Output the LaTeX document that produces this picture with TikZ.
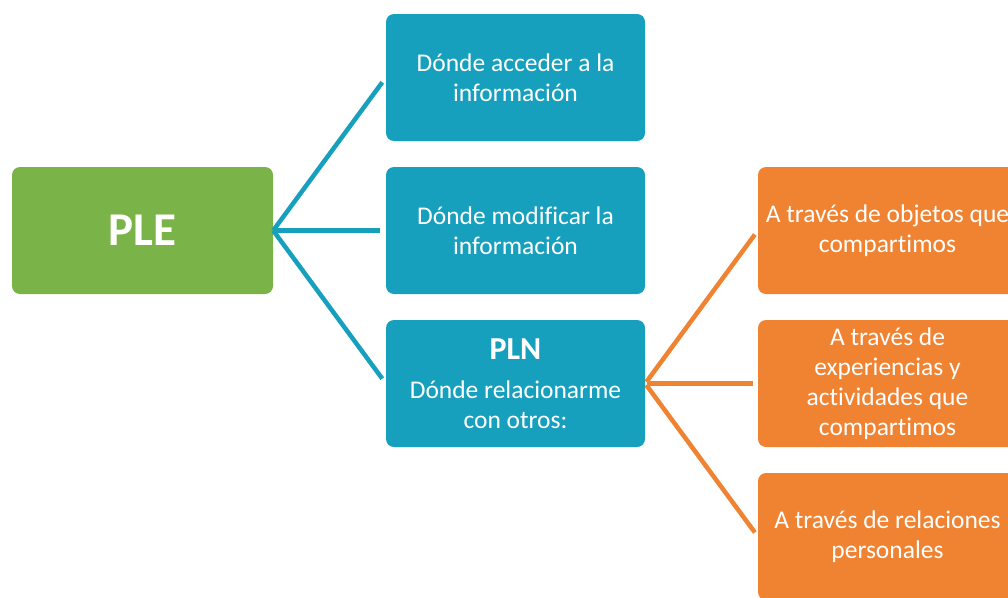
\documentclass[tikz,border=0pt]{standalone}
\usepackage{fontspec}
\setmainfont{Carlito}[Ligatures=NoCommon]
\usepackage{tikz}
\definecolor{pleGreen}{RGB}{122,179,71}
\definecolor{plnBlue}{RGB}{22,160,189}
\definecolor{plnOrange}{RGB}{240,131,50}
\tikzset{
  box/.style={rounded corners=8pt, minimum width=259pt, minimum height=127pt,
    inner sep=0pt, text=white, align=center, font=\fontsize{25.5}{30}\selectfont},
  link/.style={line width=4.5pt}
}

\begin{document}
\begin{tikzpicture}[x=1pt,y=-1pt]
        \clip (0,0) rectangle (1008,597);
        \fill[white] (0,0) rectangle (1008,597);

        \node[box, fill=pleGreen, minimum width=261pt, font=\bfseries\fontsize{47}{50}\selectfont] (ple) at (142.5,230.5) {PLE};

        \node[box, fill=plnBlue] (acceso) at (515.5,77.5) {Dónde acceder a la\\información};
        \node[box, fill=plnBlue] (modificar) at (515.5,230.5) {Dónde modificar la\\información};
        \node[box, fill=plnBlue] (pln) at (515.5,383.5) {{\bfseries\fontsize{32}{34}\selectfont PLN}\\[9pt]Dónde relacionarme\\con otros:};

        \node[box, fill=plnOrange] (objetos) at (887.5,230.5) {A través de objetos que\\compartimos};
        \node[box, fill=plnOrange] (experiencias) at (887.5,383.5) {A través de\\experiencias y\\actividades que\\compartimos};
        \node[box, fill=plnOrange] (relaciones) at (887.5,536.5) {A través de relaciones\\personales};

        \draw[link, plnBlue, shorten >=6pt] (ple.east) -- (acceso.west);
        \draw[link, plnBlue, shorten >=6pt] (ple.east) -- (modificar.west);
        \draw[link, plnBlue, shorten >=6pt] (ple.east) -- (pln.west);

        \draw[link, plnOrange, shorten <=2pt, shorten >=5pt] (pln.east) -- (objetos.west);
        \draw[link, plnOrange, shorten <=2pt, shorten >=5pt] (pln.east) -- (experiencias.west);
        \draw[link, plnOrange, shorten <=2pt, shorten >=5pt] (pln.east) -- (relaciones.west);
\end{tikzpicture}
\end{document}
